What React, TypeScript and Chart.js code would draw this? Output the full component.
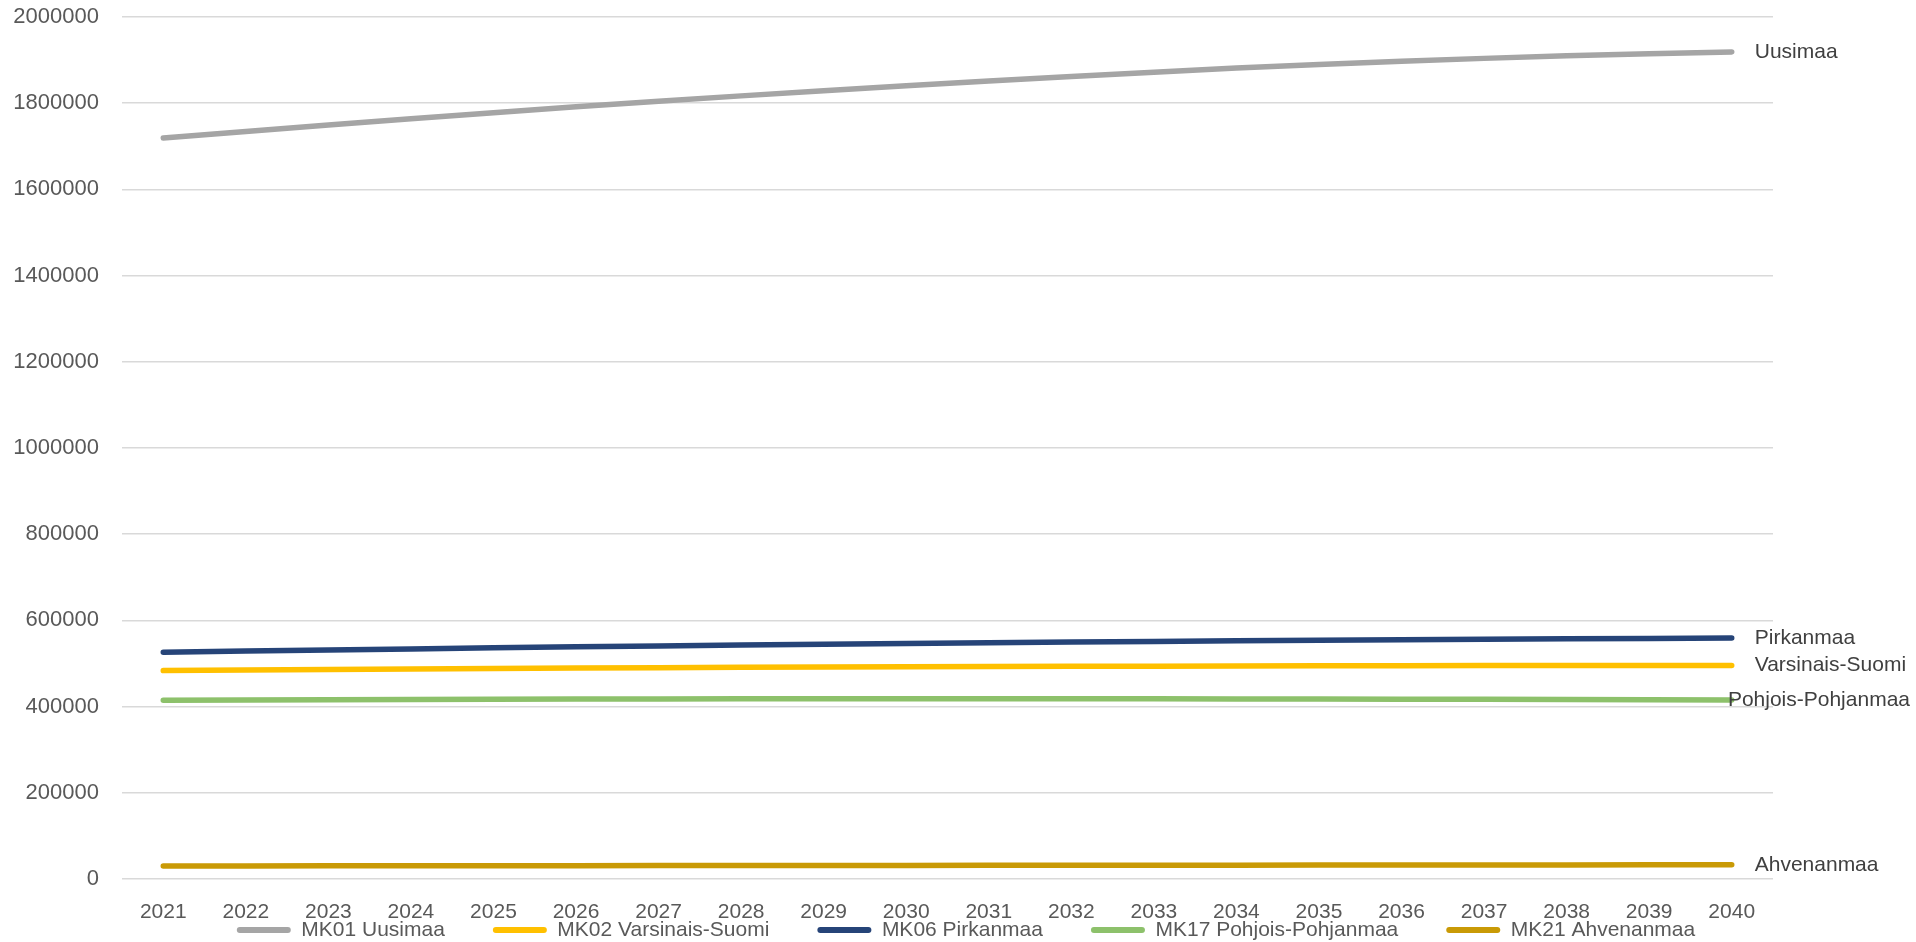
import React, { useEffect, useRef } from "react";
import { Chart, registerables } from "chart.js";

Chart.register(...registerables);

const years = [
  "2021", "2022", "2023", "2024", "2025", "2026", "2027", "2028", "2029", "2030",
  "2031", "2032", "2033", "2034", "2035", "2036", "2037", "2038", "2039", "2040",
];

const seriesNames = [
  "MK01 Uusimaa",
  "MK02 Varsinais-Suomi",
  "MK06 Pirkanmaa",
  "MK17 Pohjois-Pohjanmaa",
  "MK21 Ahvenanmaa",
];

const endLabels = ["Uusimaa", "Varsinais-Suomi", "Pirkanmaa", "Pohjois-Pohjanmaa", "Ahvenanmaa"];

const uusimaa = [
  1719000, 1734500, 1749500, 1764000, 1778000, 1791500, 1804500, 1817000, 1829000, 1840500,
  1851500, 1862000, 1872000, 1881500, 1890000, 1897500, 1904000, 1910000, 1915000, 1919000,
];
const varsinaisSuomi = [
  483500, 484900, 486200, 487400, 488500, 489500, 490400, 491200, 491900, 492500,
  493000, 493500, 493900, 494300, 494600, 494900, 495100, 495200, 495300, 495300,
];
const pirkanmaa = [
  526000, 528800, 531400, 533900, 536300, 538600, 540700, 542700, 544600, 546400,
  548100, 549700, 551200, 552600, 553900, 555100, 556200, 557200, 558100, 558900,
];
const pohjoisPohjanmaa = [
  414700, 415400, 416000, 416600, 417100, 417500, 417800, 418100, 418300, 418400,
  418400, 418300, 418100, 417900, 417600, 417300, 416900, 416500, 416000, 415500,
];
const ahvenanmaa = [
  30300, 30400, 30500, 30650, 30800, 30950, 31100, 31250, 31400, 31550,
  31700, 31850, 32000, 32150, 32300, 32450, 32600, 32750, 32850, 32950,
];

const seriesValues = [uusimaa, varsinaisSuomi, pirkanmaa, pohjoisPohjanmaa, ahvenanmaa];
const seriesColors = ["#A5A5A5", "#FFC000", "#264478", "#8DC16B", "#C99A06"];

const yMin = 0;
const yMax = 2000000;
const yStep = 200000;

const FONT = "'Liberation Sans', Arial, sans-serif";
const LEGEND_H = 20;
const LEGEND_TEXT_Y = 930;
const LEGEND_DX = 8;

const legendPatch = {
  id: "legendPatch",
  beforeUpdate(chart: any) {
    const lg = chart.legend;
    if (!lg || lg.__patched) return;
    lg.__patched = true;
    const fit = lg.fit;
    lg.fit = function (this: any) {
      fit.call(this);
      this.height = LEGEND_H;
    };
    const draw = lg.draw;
    lg.draw = function (this: any, ...args: any[]) {
      const t = this.top;
      const l = this.left;
      const r = this.right;
      const pad = this.options.labels.padding;
      const fs = this.options.labels.font.size;
      this.top = LEGEND_TEXT_Y - pad - fs / 2;
      this.left = l + LEGEND_DX;
      this.right = r + LEGEND_DX;
      draw.apply(this, args);
      this.top = t;
      this.left = l;
      this.right = r;
    };
  },
};

const endLabelPlugin = {
  id: "endLabels",
  afterDatasetsDraw(chart: any) {
    const ctx = chart.ctx;
    ctx.save();
    ctx.font = `21px ${FONT}`;
    ctx.fillStyle = "#404040";
    ctx.textBaseline = "middle";
    ctx.textAlign = "left";
    chart.data.datasets.forEach((_ds: any, i: number) => {
      const meta = chart.getDatasetMeta(i);
      const pt = meta.data[meta.data.length - 1];
      if (!pt) return;
      const text = endLabels[i];
      const w = ctx.measureText(text).width;
      let x = pt.x + 23;
      const maxX = chart.width - 6;
      if (x + w > maxX) x = maxX - w;
      ctx.fillText(text, x, pt.y);
    });
    ctx.restore();
  },
};

export default function App() {
  const canvasRef = useRef<HTMLCanvasElement | null>(null);

  useEffect(() => {
    if (!canvasRef.current) return;
    const chart = new Chart(canvasRef.current, {
      type: "line",
      data: {
        labels: years,
        datasets: seriesNames.map((name, i) => ({
          label: name,
          data: seriesValues[i],
          borderColor: seriesColors[i],
          backgroundColor: seriesColors[i],
          borderWidth: 5.5,
          borderCapStyle: "round" as const,
          borderJoinStyle: "round" as const,
          pointRadius: 0,
          pointHoverRadius: 0,
          tension: 0,
          fill: false,
        })),
      },
      options: {
        responsive: false,
        animation: false,
        layout: { padding: { left: 0, right: 0, top: 17, bottom: 0 } },
        plugins: {
          tooltip: { enabled: false },
          legend: {
            position: "bottom",
            labels: {
              boxWidth: 54,
              boxHeight: 6,
              padding: 48,
              color: "#595959",
              font: { family: FONT, size: 21 },
              generateLabels: (c: any) =>
                (Chart as any).defaults.plugins.legend.labels
                  .generateLabels(c)
                  .map((l: any) => ({
                    ...l,
                    lineWidth: 0,
                    borderRadius: 3,
                    fillStyle: seriesColors[l.datasetIndex],
                  })),
            },
          },
        },
        scales: {
          x: {
            type: "category",
            offset: true,
            grid: { display: false, drawTicks: false },
            border: { display: false },
            ticks: {
              color: "#595959",
              font: { family: FONT, size: 21 },
              padding: 21,
              autoSkip: false,
              maxRotation: 0,
            },
            afterFit: (s: any) => {
              s.height = 43;
            },
          },
          y: {
            type: "linear",
            min: yMin,
            max: yMax,
            position: "left",
            grid: { color: "#D9D9D9", lineWidth: 1.5, drawTicks: false },
            border: { display: false },
            ticks: {
              stepSize: yStep,
              color: "#595959",
              font: { family: FONT, size: 22 },
              padding: 23,
              callback: (v: any) => String(v),
            },
            afterFit: (s: any) => {
              s.width = 122;
              s.paddingTop = 0;
              s.paddingBottom = 0;
            },
          },
          y2: {
            type: "linear",
            position: "right",
            display: true,
            grid: { display: false, drawTicks: false },
            border: { display: false },
            ticks: { display: false },
            afterFit: (s: any) => {
              s.width = 143;
              s.paddingTop = 0;
              s.paddingBottom = 0;
            },
          },
        },
      },
      plugins: [legendPatch, endLabelPlugin],
    } as any);
    return () => chart.destroy();
  }, []);

  return (
    <div style={{ position: "absolute", left: 0, top: 0, width: 1916, height: 942, background: "#fff" }}>
      <canvas ref={canvasRef} width={1916} height={942} style={{ display: "block" }} />
    </div>
  );
}
